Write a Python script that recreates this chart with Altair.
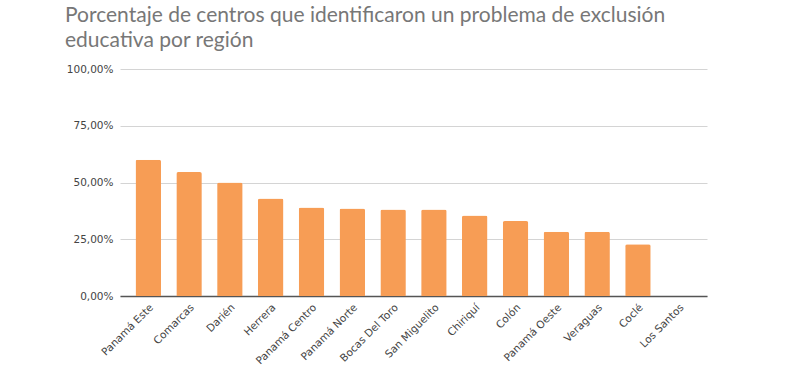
import altair as alt
import pandas as pd

regions = ["Panamá Este", "Comarcas", "Darién", "Herrera", "Panamá Centro",
           "Panamá Norte", "Bocas Del Toro", "San Miguelito", "Chiriquí", "Colón",
           "Panamá Oeste", "Veraguas", "Coclé", "Los Santos"]
values = [0.60, 0.546, 0.50, 0.43, 0.39, 0.385, 0.381, 0.381, 0.355, 0.33,
          0.283, 0.283, 0.228, 0.0]
y_ticks = [0, 0.25, 0.5, 0.75, 1.0]

df = pd.DataFrame({"region": regions, "value": values})

chart = alt.Chart(df).mark_bar(
    color="#F79D55", cornerRadiusTopLeft=2, cornerRadiusTopRight=2
).encode(
    x=alt.X("region:N", sort=regions, title=None,
            scale=alt.Scale(paddingInner=0.375, paddingOuter=0.38),
            axis=alt.Axis(labelAngle=-45, labelFont="DejaVu Sans", labelFontSize=10.5,
                          labelColor="#444444", ticks=False, domainColor="#555555",
                          domainWidth=1.5, labelPadding=6)),
    y=alt.Y("value:Q", title=None,
            scale=alt.Scale(domain=[0, 1], nice=False),
            axis=alt.Axis(values=y_ticks,
                          labelExpr="replace(format(datum.value, '.2%'), '.', ',')",
                          labelFont="DejaVu Sans", labelFontSize=10.5, labelColor="#444444",
                          ticks=False, domain=False, gridColor="#d4d4d4", labelPadding=7)),
).properties(
    width=587,
    height=227,
    title=alt.TitleParams(
        ["Porcentaje de centros que identificaron un problema de exclusión",
         "educativa por región"],
        anchor="start", frame="group", font="Lato", fontSize=21, fontWeight="normal",
        color="#777777", dx=-55, lineHeight=25, offset=13
    ),
    padding={"left": 120, "top": 69, "right": 104, "bottom": 81},
    autosize=alt.AutoSizeParams(type="none"),
).configure_view(stroke=None).configure_axisX(grid=False)

chart.save("out.html", embed_options={"renderer": "svg", "actions": False})
